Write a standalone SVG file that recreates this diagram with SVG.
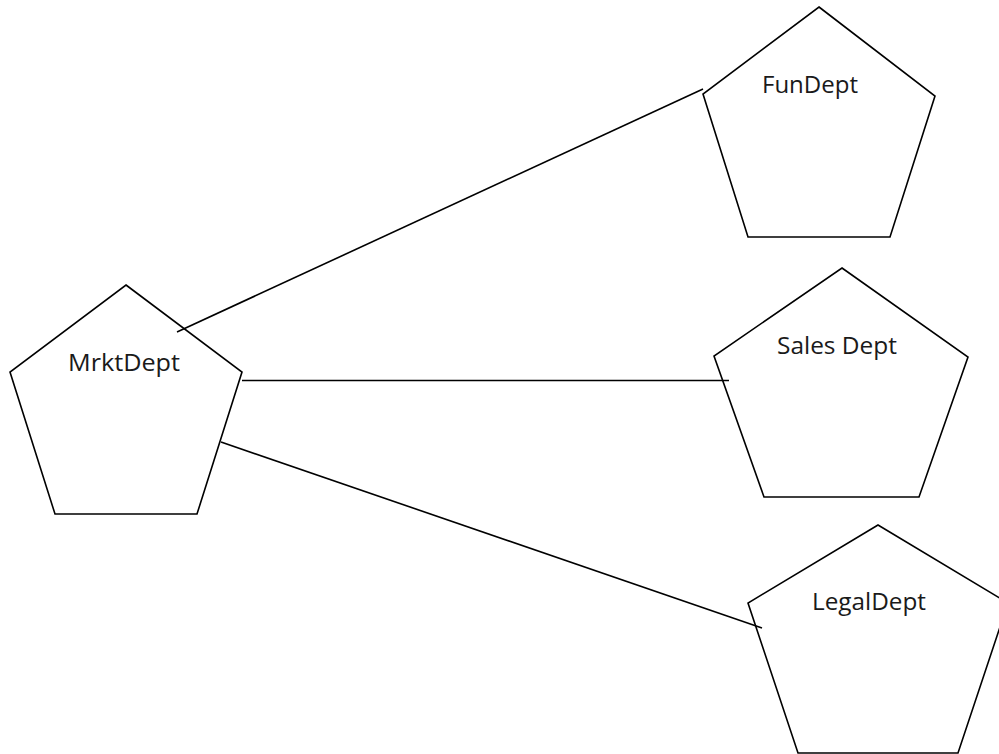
<svg xmlns="http://www.w3.org/2000/svg" width="999" height="754" viewBox="0 0 999 754">
<style>
.shape{fill:#fff;stroke:#000;stroke-width:1.6;stroke-linejoin:miter}
.edge{stroke:#000;stroke-width:1.6;fill:none}
.lbl{font-family:"Open Sans","Liberation Sans",sans-serif;font-size:24px;fill:#1a1a1a}
</style>
<rect width="999" height="754" fill="#fff"/>
<g id="MrktDept">
<polygon class="shape" points="126,285 242,372 197,514 55,514 10,372"/>
<text class="lbl" x="68" y="371" textLength="112" lengthAdjust="spacingAndGlyphs">MrktDept</text>
</g>
<g id="FunDept">
<polygon class="shape" points="819,7 935,96 890,237 748,237 703,94"/>
<text class="lbl" x="762" y="93" textLength="96" lengthAdjust="spacingAndGlyphs">FunDept</text>
</g>
<g id="SalesDept">
<polygon class="shape" points="842,268 968,357 919,497 764,497 714,356"/>
<text class="lbl" x="777" y="354" textLength="120" lengthAdjust="spacingAndGlyphs">Sales Dept</text>
</g>
<g id="LegalDept">
<polygon class="shape" points="878,525 1008,603 958,753 798,753 748,603"/>
<text class="lbl" x="812" y="610" textLength="114" lengthAdjust="spacingAndGlyphs">LegalDept</text>
</g>
<g id="connectors">
<line class="edge" x1="177" y1="332" x2="703" y2="89"/>
<line class="edge" x1="242" y1="380.5" x2="729" y2="380.5"/>
<line class="edge" x1="221" y1="442" x2="762" y2="628"/>
</g>
</svg>
